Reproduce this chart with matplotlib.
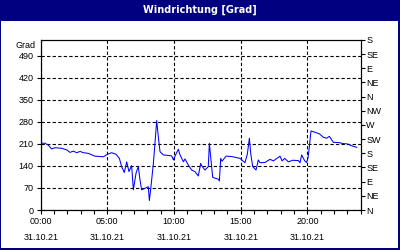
import matplotlib
matplotlib.use('Agg')
import matplotlib.pyplot as plt
import matplotlib.transforms as mtransforms

plt.rcParams['font.family'] = ['Liberation Sans', 'DejaVu Sans']

# Stunden seit 00:00 und Windrichtung in Grad
stunden = [0.0, 0.32, 0.57, 0.82, 1.07, 1.57, 1.95, 2.2, 2.45, 2.7, 2.95, 3.2, 3.57,
           4.07, 4.7, 5.0, 5.32, 5.65, 5.9, 6.07, 6.27, 6.45, 6.62, 6.82, 6.95, 7.15,
           7.32, 7.45, 7.57, 7.82, 8.07, 8.15, 8.25, 8.45, 8.57, 8.7, 8.82, 8.95, 9.2,
           9.82, 9.95, 10.07, 10.32, 10.45, 10.7, 10.82, 11.07, 11.32, 11.57, 11.82,
           12.0, 12.07, 12.32, 12.57, 12.65, 12.82, 12.9, 13.07, 13.32, 13.4, 13.5,
           13.6, 13.9, 14.3, 14.95, 15.32, 15.5, 15.65, 15.75, 15.9, 16.15, 16.32,
           16.45, 16.82, 17.2, 17.45, 17.95, 18.1, 18.3, 18.57, 18.9, 19.32, 19.45,
           19.57, 19.8, 19.95, 20.05, 20.15, 20.27, 20.57, 20.9, 21.2, 21.45, 21.65,
           21.95, 22.4, 22.65, 23.0, 23.32, 23.7]
grad = [212, 212, 206, 194, 198, 196, 191, 183, 187, 182, 186, 182, 180,
        171, 169, 177, 182, 177, 164, 138, 119, 153, 122, 141, 64, 117,
        138, 95, 64, 69, 74, 30, 66, 148, 212, 284, 233, 185, 175,
        172, 159, 171, 193, 175, 153, 162, 143, 127, 122, 108,
        148, 141, 127, 138, 212, 138, 104, 101, 98, 92, 164,
        155, 171, 170, 164, 150, 178, 228, 180, 138, 127, 159,
        150, 151, 161, 156, 171, 156, 164, 153, 158, 157, 150,
        175, 156, 151, 166, 201, 251, 247, 242, 231, 228, 234,
        215, 214, 211, 210, 204, 199]

x_ticks = [0, 5, 10, 15, 20]
x_labels = ['00:00\n31.10.21', '05:00\n31.10.21', '10:00\n31.10.21',
            '15:00\n31.10.21', '20:00\n31.10.21']
y_ticks = [0, 70, 140, 210, 280, 350, 420, 490]
r_ticks = [0, 45, 90, 135, 180, 225, 270, 315, 360, 405, 450, 495, 540]
r_labels = ['N', 'NE', 'E', 'SE', 'S', 'SW', 'W', 'NW', 'N', 'NE', 'E', 'SE', 'S']

navy = '#000080'
fig = plt.figure(figsize=(4, 2.5), dpi=100, facecolor=navy)
# weisser Innenbereich
fig.patches.append(plt.Rectangle((1/400, 2/250), 397/400, 227/250,
                                 transform=fig.transFigure, facecolor='white',
                                 edgecolor='none', zorder=-10))
fig.text(0.5, 1 - 10/250, 'Windrichtung [Grad]', color='white', fontsize=7,
         fontweight='bold', ha='center', va='center', family='DejaVu Sans')

ax = fig.add_axes([40.7/400, 40/250, 320/400, 170/250])
ax.set_facecolor('white')
ax.plot(stunden, grad, color='#0000ff', lw=0.75)
ax.set_xlim(0, 24)
ax.set_ylim(0, 540)
ax.set_xticks(x_ticks)
ax.set_xticklabels(x_labels, linespacing=2.0)
ax.set_xticks(range(25), minor=True)
ax.set_yticks(y_ticks)
ax.grid(True, color='black', linestyle=(0, (3, 2)), lw=0.8)
ax.tick_params(which='both', direction='out', length=3, width=0.8, labelsize=6.5,
               pad=2, colors='black')
for s in ax.spines.values():
    s.set_linewidth(0.8)

trans = mtransforms.blended_transform_factory(ax.transAxes, ax.transData)
ax.text(-0.015, 524, 'Grad', transform=trans, ha='right', va='center', fontsize=6.5)

ax2 = ax.twinx()
ax2.set_ylim(0, 540)
ax2.set_yticks(r_ticks)
ax2.set_yticklabels(r_labels)
ax2.tick_params(direction='out', length=3, width=0.8, labelsize=6.5, pad=1)

fig.savefig('out.png', dpi=100, facecolor=navy)
